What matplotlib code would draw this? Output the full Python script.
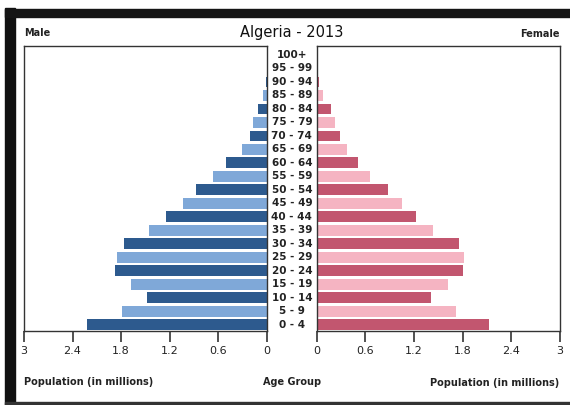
import matplotlib.pyplot as plt
import matplotlib.transforms as mtransforms
from matplotlib.patches import Rectangle

# population pyramid, values in millions
age_groups = ["0 - 4", "5 - 9", "10 - 14", "15 - 19", "20 - 24", "25 - 29", "30 - 34",
              "35 - 39", "40 - 44", "45 - 49", "50 - 54", "55 - 59", "60 - 64", "65 - 69",
              "70 - 74", "75 - 79", "80 - 84", "85 - 89", "90 - 94", "95 - 99", "100+"]
male = [2.22, 1.79, 1.48, 1.68, 1.87, 1.85, 1.76, 1.46, 1.24, 1.04, 0.87, 0.66, 0.50,
        0.31, 0.21, 0.17, 0.11, 0.05, 0.015, 0.003, 0.0]
female = [2.12, 1.72, 1.41, 1.62, 1.80, 1.82, 1.75, 1.44, 1.22, 1.05, 0.88, 0.66, 0.51,
          0.37, 0.28, 0.22, 0.17, 0.08, 0.03, 0.005, 0.001]
ticks = [0, 0.6, 1.2, 1.8, 2.4, 3]
tick_labels = ["0", "0.6", "1.2", "1.8", "2.4", "3"]

male_cols = ["#2d5a8e", "#7fa8d8"]
female_cols = ["#c2566f", "#f5b4c2"]

fig = plt.figure(figsize=(5.7, 4.05), dpi=100)

ax_l = fig.add_axes([0.042, 0.183, 0.426, 0.703])
ax_r = fig.add_axes([0.556, 0.183, 0.426, 0.703])

y = list(range(len(age_groups)))
ax_l.barh(y, male, height=0.8, color=[male_cols[i % 2] for i in y])
ax_r.barh(y, female, height=0.8, color=[female_cols[i % 2] for i in y])

for ax in (ax_l, ax_r):
    ax.set_xlim(0, 3)
    ax.set_ylim(-0.45, 20.65)
    ax.set_yticks([])
    ax.set_xticks(ticks)
    ax.set_xticklabels(tick_labels, fontsize=8, color="#222222")
    ax.tick_params(axis="x", direction="out", length=8, width=1.2, pad=3, color="#333333")
    for s in ax.spines.values():
        s.set_linewidth(1.0)
        s.set_color("#333333")
ax_l.invert_xaxis()

# age group labels between the two halves
trans = mtransforms.blended_transform_factory(fig.transFigure, ax_l.transData)
for i, lab in enumerate(age_groups):
    fig.text(0.512, i, lab, transform=trans, ha="center", va="center",
             fontsize=7.5, fontweight="bold", color="#222222")

fig.text(0.512, 0.92, "Algeria - 2013", ha="center", va="center", fontsize=10.5, color="#111111")
fig.text(0.042, 0.918, "Male", ha="left", va="center", fontsize=7, fontweight="bold", color="#222222")
fig.text(0.982, 0.916, "Female", ha="right", va="center", fontsize=7, fontweight="bold", color="#222222")
fig.text(0.042, 0.057, "Population (in millions)", ha="left", va="center", fontsize=7,
         fontweight="bold", color="#222222")
fig.text(0.982, 0.055, "Population (in millions)", ha="right", va="center", fontsize=7,
         fontweight="bold", color="#222222")
fig.text(0.512, 0.057, "Age Group", ha="center", va="center", fontsize=7,
         fontweight="bold", color="#222222")

# dark frame from the screenshot
fig.patches.append(Rectangle((0.009, 0.0), 0.018, 0.98, transform=fig.transFigure,
                             color="#111111", zorder=0))
fig.patches.append(Rectangle((0.009, 0.958), 0.991, 0.02, transform=fig.transFigure,
                             color="#151515", zorder=0))
fig.patches.append(Rectangle((0.009, 0.0), 0.991, 0.007, transform=fig.transFigure,
                             color="#333333", zorder=0))

fig.savefig("out.png", dpi=100)
